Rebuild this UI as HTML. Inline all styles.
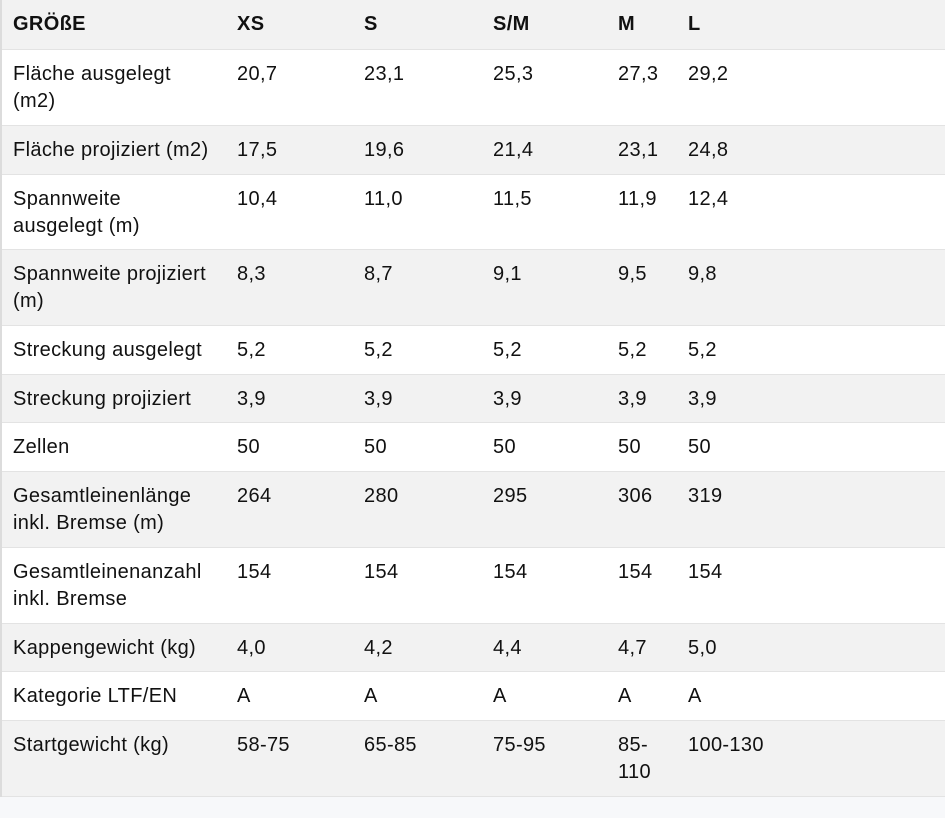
<!DOCTYPE html>
<html><head><meta charset="utf-8"><style>
body{margin:0;width:945px;height:818px;background:#f7f8fa;font-family:"Liberation Sans",sans-serif;font-size:20px;letter-spacing:0.35px;color:#111;overflow:hidden;position:relative}
.r{position:absolute;left:2px;width:943px;border-bottom:1px solid #e3e3e3;box-sizing:border-box}
.g{background:#f2f2f2}.w{background:#fff}
.c{position:absolute;top:11px;line-height:27px;white-space:nowrap}
.h .c{font-weight:bold}
.lb{position:absolute;left:0;top:0;width:2px;height:797px;background:#dcdcdc}
</style></head><body>
<div class="lb"></div>
<div class="r g h" style="top:0;height:50px"><div class="c" style="left:11px">GRÖßE</div><div class="c" style="left:235px">XS</div><div class="c" style="left:362px">S</div><div class="c" style="left:491px">S/M</div><div class="c" style="left:616px">M</div><div class="c" style="left:686px">L</div></div>
<div class="r w" style="top:50px;height:76px"><div class="c" style="left:11px">Fläche ausgelegt<br>(m2)</div><div class="c" style="left:235px">20,7</div><div class="c" style="left:362px">23,1</div><div class="c" style="left:491px">25,3</div><div class="c" style="left:616px">27,3</div><div class="c" style="left:686px">29,2</div></div>
<div class="r g" style="top:126px;height:49px"><div class="c" style="left:11px">Fläche projiziert (m2)</div><div class="c" style="left:235px">17,5</div><div class="c" style="left:362px">19,6</div><div class="c" style="left:491px">21,4</div><div class="c" style="left:616px">23,1</div><div class="c" style="left:686px">24,8</div></div>
<div class="r w" style="top:175px;height:75px"><div class="c" style="left:11px">Spannweite<br>ausgelegt (m)</div><div class="c" style="left:235px">10,4</div><div class="c" style="left:362px">11,0</div><div class="c" style="left:491px">11,5</div><div class="c" style="left:616px">11,9</div><div class="c" style="left:686px">12,4</div></div>
<div class="r g" style="top:250px;height:76px"><div class="c" style="left:11px">Spannweite projiziert<br>(m)</div><div class="c" style="left:235px">8,3</div><div class="c" style="left:362px">8,7</div><div class="c" style="left:491px">9,1</div><div class="c" style="left:616px">9,5</div><div class="c" style="left:686px">9,8</div></div>
<div class="r w" style="top:326px;height:49px"><div class="c" style="left:11px">Streckung ausgelegt</div><div class="c" style="left:235px">5,2</div><div class="c" style="left:362px">5,2</div><div class="c" style="left:491px">5,2</div><div class="c" style="left:616px">5,2</div><div class="c" style="left:686px">5,2</div></div>
<div class="r g" style="top:375px;height:48px"><div class="c" style="left:11px">Streckung projiziert</div><div class="c" style="left:235px">3,9</div><div class="c" style="left:362px">3,9</div><div class="c" style="left:491px">3,9</div><div class="c" style="left:616px">3,9</div><div class="c" style="left:686px">3,9</div></div>
<div class="r w" style="top:423px;height:49px"><div class="c" style="left:11px">Zellen</div><div class="c" style="left:235px">50</div><div class="c" style="left:362px">50</div><div class="c" style="left:491px">50</div><div class="c" style="left:616px">50</div><div class="c" style="left:686px">50</div></div>
<div class="r g" style="top:472px;height:76px"><div class="c" style="left:11px">Gesamtleinenlänge<br>inkl. Bremse (m)</div><div class="c" style="left:235px">264</div><div class="c" style="left:362px">280</div><div class="c" style="left:491px">295</div><div class="c" style="left:616px">306</div><div class="c" style="left:686px">319</div></div>
<div class="r w" style="top:548px;height:76px"><div class="c" style="left:11px">Gesamtleinenanzahl<br>inkl. Bremse</div><div class="c" style="left:235px">154</div><div class="c" style="left:362px">154</div><div class="c" style="left:491px">154</div><div class="c" style="left:616px">154</div><div class="c" style="left:686px">154</div></div>
<div class="r g" style="top:624px;height:48px"><div class="c" style="left:11px">Kappengewicht (kg)</div><div class="c" style="left:235px">4,0</div><div class="c" style="left:362px">4,2</div><div class="c" style="left:491px">4,4</div><div class="c" style="left:616px">4,7</div><div class="c" style="left:686px">5,0</div></div>
<div class="r w" style="top:672px;height:49px"><div class="c" style="left:11px">Kategorie LTF/EN</div><div class="c" style="left:235px">A</div><div class="c" style="left:362px">A</div><div class="c" style="left:491px">A</div><div class="c" style="left:616px">A</div><div class="c" style="left:686px">A</div></div>
<div class="r g" style="top:721px;height:76px"><div class="c" style="left:11px">Startgewicht (kg)</div><div class="c" style="left:235px">58-75</div><div class="c" style="left:362px">65-85</div><div class="c" style="left:491px">75-95</div><div class="c" style="left:616px">85-<br>110</div><div class="c" style="left:686px">100-130</div></div>
</body></html>
